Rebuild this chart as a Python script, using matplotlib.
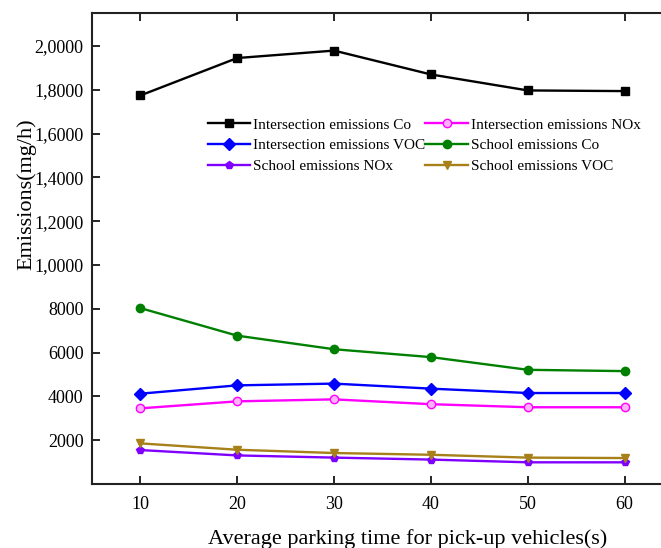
import numpy as np
import matplotlib
matplotlib.use("Agg")
import matplotlib.pyplot as plt

plt.rcParams['font.family'] = ['Liberation Serif', 'DejaVu Serif']

# parking time (s)
park_time = [10, 20, 30, 40, 50, 60]

# emissions (mg/h)
inter_co = [17740, 19450, 19790, 18700, 17970, 17940]
inter_nox = [3450, 3770, 3860, 3640, 3500, 3500]
inter_voc = [4120, 4500, 4580, 4350, 4150, 4150]
school_co = [8030, 6770, 6150, 5790, 5210, 5150]
school_nox = [1545, 1300, 1200, 1110, 985, 985]
school_voc = [1850, 1560, 1410, 1330, 1200, 1180]

ytick_vals = [2000, 4000, 6000, 8000, 10000, 12000, 14000, 16000, 18000, 20000]
ytick_text = ["2000", "4000", "6000", "8000", "1,0000", "1,2000",
              "1,4000", "1,6000", "1,8000", "2,0000"]

fig = plt.figure(figsize=(6.61, 5.48), dpi=100)
ax = fig.add_axes([0.139, 0.117, 0.872, 0.859])

# order as in the legend (two columns, filled row-wise)
lines = [
    (inter_co, "Intersection emissions Co", "black", "s", "black"),
    (inter_nox, "Intersection emissions NOx", "#ff00ff", "o", "#ffb0ff"),
    (inter_voc, "Intersection emissions VOC", "#0000ff", "D", "#0000ff"),
    (school_co, "School emissions Co", "#008000", "o", "#008000"),
    (school_nox, "School emissions NOx", "#8000ff", "p", "#8000ff"),
    (school_voc, "School emissions VOC", "#a8801a", "v", "#a8801a"),
]
for vals, lab, col, mk, fc in lines:
    ax.plot(park_time, vals, color=col, marker=mk, markersize=6,
            markerfacecolor=fc, markeredgecolor=col, linewidth=1.7, label=lab)

ax.set_xlim(5, 64.5)
ax.set_ylim(0, 21500)
ax.set_xticks(park_time)
ax.set_yticks(ytick_vals)
ax.set_yticklabels(ytick_text)
ax.tick_params(direction='in', top=True, labeltop=False, length=6, width=1.2,
               labelsize=13, pad=6)
ax.tick_params(axis='x', pad=9)
for s in ax.spines.values():
    s.set_linewidth(1.5)
    s.set_color('#222222')

ax.set_xlabel("Average parking time for pick-up vehicles(s)", fontsize=16)
ax.set_ylabel("Emissions(mg/h)", fontsize=16)
ax.xaxis.set_label_coords(0.548, -0.095)
ax.yaxis.set_label_coords(-0.097, 0.616)

# reorder so the row-wise reading matches two columns
h, l = ax.get_legend_handles_labels()
order = [0, 2, 4, 1, 3, 5]
ax.legend([h[i] for i in order], [l[i] for i in order], ncol=2, frameon=False,
          fontsize=11, loc='upper left', bbox_to_anchor=(0.19, 0.79),
          handlelength=2.8, handletextpad=0.2, columnspacing=0.0,
          labelspacing=0.45, borderaxespad=0)

fig.savefig("out.png", dpi=100)
